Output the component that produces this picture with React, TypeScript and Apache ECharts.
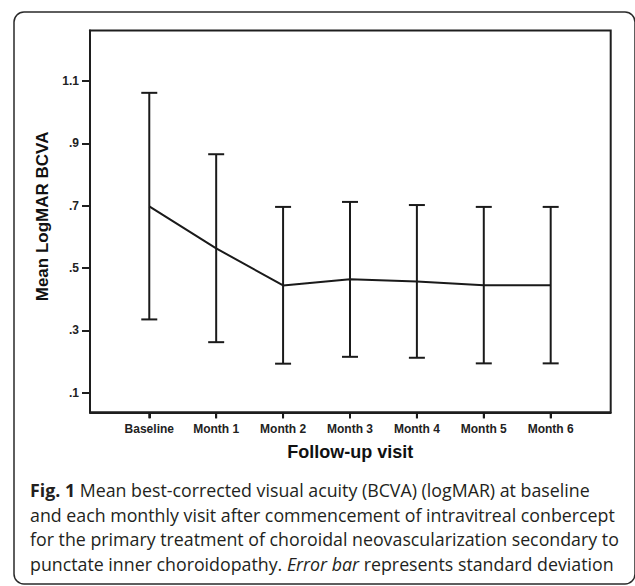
import React, { useEffect, useRef } from "react";
import * as echarts from "echarts";

const categories = ["Baseline", "Month 1", "Month 2", "Month 3", "Month 4", "Month 5", "Month 6"];
const means = [0.698, 0.563, 0.444, 0.464, 0.457, 0.445, 0.445];
const upper = [1.062, 0.865, 0.696, 0.712, 0.702, 0.696, 0.696];
const lower = [0.335, 0.262, 0.193, 0.215, 0.212, 0.194, 0.194];
const yTicks = [0.1, 0.3, 0.5, 0.7, 0.9, 1.1];
const Y_MIN = 0.037;
const Y_MAX = 1.262;

const captionLines = [
  "{b|Fig. 1} Mean best-corrected visual acuity (BCVA) (logMAR) at baseline",
  "and each monthly visit after commencement of intravitreal conbercept",
  "for the primary treatment of choroidal neovascularization secondary to",
  "punctate inner choroidopathy. {i|Error bar} represents standard deviation",
];

const AX_FONT = "'Liberation Sans', Arial, sans-serif";
const CAP_FONT = "'Open Sans', sans-serif";

export default function App() {
  const ref = useRef<HTMLDivElement>(null);
  useEffect(() => {
    if (!ref.current) return;
    const chart = echarts.init(ref.current, undefined, { renderer: "svg" });
    const capSize = 17.8;
    const option: any = {
      animation: false,
      backgroundColor: "#fff",
      grid: {
        left: 90,
        top: 30.5,
        right: 24.3,
        bottom: 173.7,
        show: true,
        borderColor: "#1e1e1e",
        borderWidth: 2,
        backgroundColor: "transparent",
        containLabel: false,
      },
      xAxis: {
        type: "value",
        min: -0.886,
        max: 6.897,
        splitLine: { show: false },
        axisLine: { show: true, onZero: false, lineStyle: { color: "#1e1e1e", width: 2 } },
        axisTick: {
          show: true,
          inside: false,
          length: 6,
          customValues: categories.map((_, i) => i),
          lineStyle: { color: "#1e1e1e", width: 2 },
        },
        axisLabel: {
          customValues: categories.map((_, i) => i),
          formatter: (v: number) => categories[Math.round(v)] ?? "",
          fontFamily: AX_FONT,
          fontWeight: "bold",
          fontSize: 12,
          color: "#222",
          margin: 11,
        },
        name: "Follow-up visit",
        nameLocation: "middle",
        nameGap: 31,
        nameTextStyle: {
          fontFamily: AX_FONT,
          fontWeight: "bold",
          fontSize: 18,
          color: "#111",
        },
      },
      yAxis: {
        type: "value",
        min: Y_MIN,
        max: Y_MAX,
        splitLine: { show: false },
        axisLine: { show: true, onZero: false, lineStyle: { color: "#1e1e1e", width: 2 } },
        axisTick: {
          show: true,
          inside: false,
          length: 8,
          customValues: yTicks,
          lineStyle: { color: "#1e1e1e", width: 2 },
        },
        axisLabel: {
          customValues: yTicks,
          formatter: (v: number) => {
            const s = (Math.round(v * 10) / 10).toFixed(1);
            return s.startsWith("0") ? s.slice(1) : s;
          },
          fontFamily: AX_FONT,
          fontWeight: "bold",
          fontSize: 12,
          color: "#222",
          margin: 11,
        },
        name: "Mean LogMAR BCVA",
        nameLocation: "middle",
        nameRotate: 90,
        nameGap: 28,
        nameTextStyle: {
          fontFamily: AX_FONT,
          fontWeight: "bold",
          fontSize: 17,
          color: "#111",
          padding: [0, 0, 0, 10],
        },
      },
      series: [
        {
          type: "custom",
          name: "SD",
          clip: false,
          data: categories.map((_, i) => [i, lower[i], upper[i]]),
          renderItem: (params: any, api: any) => {
            const x = api.value(0);
            const lo = api.coord([x, api.value(1)]);
            const hi = api.coord([x, api.value(2)]);
            const base = api.coord([x, Y_MIN]);
            const hw = 8;
            const st = { stroke: "#1a1a1a", lineWidth: 2, fill: "none" };
            return {
              type: "group",
              children: [
                { type: "line", shape: { x1: hi[0], y1: hi[1], x2: lo[0], y2: lo[1] }, style: st },
                { type: "line", shape: { x1: hi[0] - hw, y1: hi[1], x2: hi[0] + hw, y2: hi[1] }, style: st },
                { type: "line", shape: { x1: lo[0] - hw, y1: lo[1], x2: lo[0] + hw, y2: lo[1] }, style: st },
                { type: "line", shape: { x1: base[0], y1: base[1], x2: base[0], y2: base[1] + 6 }, style: st },
              ],
            };
          },
          z: 3,
        },
        {
          type: "line",
          name: "Mean",
          data: categories.map((_, i) => [i, means[i]]),
          symbol: "none",
          lineStyle: { color: "#1a1a1a", width: 2 },
          z: 4,
        },
      ],
      graphic: [
        {
          type: "rect",
          shape: { x: 14, y: 12, width: 621, height: 572, r: 10 },
          style: { fill: "none", stroke: "#2a2a2a", lineWidth: 1.5 },
          silent: true,
          z: 10,
        },
        ...captionLines.map((t, i) => ({
          type: "text",
          x: 30,
          y: 490 + i * 24.5,
          style: {
            text: t,
            fontFamily: CAP_FONT,
            fontSize: capSize,
            fill: "#231f20",
            verticalAlign: "middle",
            align: "left",
            rich: {
              b: { fontFamily: CAP_FONT, fontSize: capSize, fontWeight: "bold", fill: "#231f20" },
              i: { fontFamily: CAP_FONT, fontSize: capSize, fontStyle: "italic", fill: "#231f20" },
            },
          },
          z: 10,
        })),
      ],
    };
    chart.setOption(option);
    return () => chart.dispose();
  }, []);
  return (
    <div
      ref={ref}
      style={{ position: "absolute", left: 0, top: 0, width: 635, height: 586 }}
    />
  );
}
